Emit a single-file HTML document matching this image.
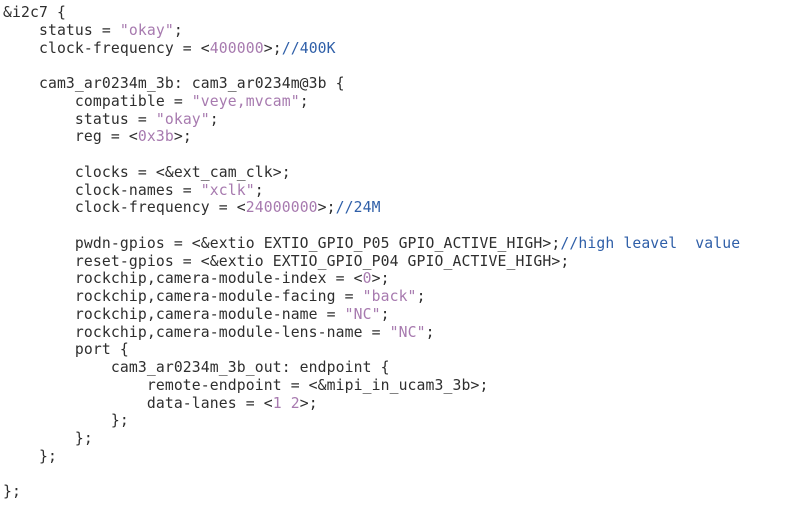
<!DOCTYPE html><html><head><style>
body{margin:0;background:#fff;width:792px;height:514px;overflow:hidden}
pre{margin:0;position:absolute;left:3px;top:4px;font-family:"DejaVu Sans Mono",monospace;font-size:14.75px;letter-spacing:0.11px;line-height:17.75px;color:#2e2e2e}
.s{color:#a77aaf}.c{color:#2f5fa8}
</style></head><body><pre>&amp;i2c7 {
    status = <span class="s">"okay"</span>;
    clock-frequency = &lt;<span class="s">400000</span>&gt;;<span class="c">//400K</span>

    cam3_ar0234m_3b: cam3_ar0234m@3b {
        compatible = <span class="s">"veye,mvcam"</span>;
        status = <span class="s">"okay"</span>;
        reg = &lt;<span class="s">0x3b</span>&gt;;

        clocks = &lt;&amp;ext_cam_clk&gt;;
        clock-names = <span class="s">"xclk"</span>;
        clock-frequency = &lt;<span class="s">24000000</span>&gt;;<span class="c">//24M</span>

        pwdn-gpios = &lt;&amp;extio EXTIO_GPIO_P05 GPIO_ACTIVE_HIGH&gt;;<span class="c">//high leavel  value</span>
        reset-gpios = &lt;&amp;extio EXTIO_GPIO_P04 GPIO_ACTIVE_HIGH&gt;;
        rockchip,camera-module-index = &lt;<span class="s">0</span>&gt;;
        rockchip,camera-module-facing = <span class="s">"back"</span>;
        rockchip,camera-module-name = <span class="s">"NC"</span>;
        rockchip,camera-module-lens-name = <span class="s">"NC"</span>;
        port {
            cam3_ar0234m_3b_out: endpoint {
                remote-endpoint = &lt;&amp;mipi_in_ucam3_3b&gt;;
                data-lanes = &lt;<span class="s">1 2</span>&gt;;
            };
        };
    };

};</pre></body></html>
